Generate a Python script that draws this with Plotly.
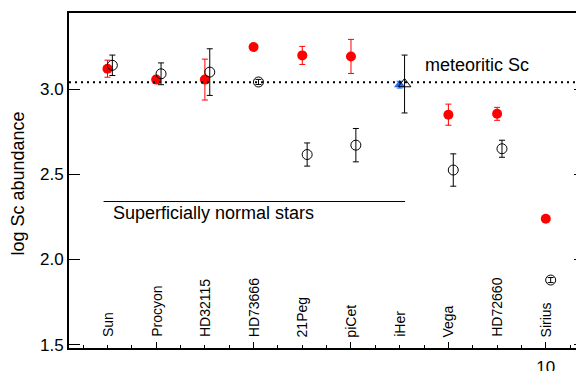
import plotly.graph_objects as go

# ---- data ----
stars = ["Sun", "Procyon", "HD32115", "HD73666", "21Peg", "piCet", "iHer", "Vega", "HD72660", "Sirius"]
star_x = [1, 2, 3, 4, 5, 6, 7, 8, 9, 10]

# filled red circles
red_x = [1, 2, 3, 4, 5, 6, 8, 9, 10]
red_y = [3.12, 3.056, 3.056, 3.247, 3.198, 3.192, 2.85, 2.855, 2.239]
red_err = [0.05, 0.02, 0.12, 0.0, 0.053, 0.10, 0.062, 0.038, 0.01]

# open black circles
open_x = [1.1, 2.1, 3.1, 4.1, 5.1, 6.1, 8.1, 9.1, 10.1]
open_y = [3.14, 3.09, 3.10, 3.042, 2.616, 2.671, 2.525, 2.65, 1.879]
open_err = [0.06, 0.064, 0.137, 0.015, 0.068, 0.098, 0.095, 0.05, 0.015]

# iHer triangles
blue_x = [7.0]
blue_y = [3.026]
blue_err = [0.02]
tri_x = [7.1]
tri_y = [3.03]
tri_err = [0.17]

meteoritic = 3.04
normal_line_x = [0.92, 7.11]
normal_line_y = 2.34

x_tickvals = [2, 4, 6, 8, 10]
x_ticktext = ["", "", "", "", "10"]
y_tickvals = [1.5, 2.0, 2.5, 3.0]
y_ticktext = ["1.5", "2.0", "2.5", "3.0"]

FONT = "Liberation Sans, Arial, sans-serif"

fig = go.Figure()

fig.add_trace(go.Scatter(
    x=red_x, y=red_y, mode="markers",
    marker=dict(color="#ff0000", size=10, line=dict(width=0)),
    error_y=dict(type="data", array=red_err, color="#ff0000", thickness=1, width=3),
    showlegend=False))

fig.add_trace(go.Scatter(
    x=open_x, y=open_y, mode="markers",
    marker=dict(color="black", size=10, symbol="circle-open",
                line=dict(color="black", width=1)),
    error_y=dict(type="data", array=open_err, color="black", thickness=1, width=3),
    showlegend=False))

fig.add_trace(go.Scatter(
    x=blue_x, y=blue_y, mode="markers",
    marker=dict(color="#1e6ff0", size=10, symbol="triangle-up", line=dict(width=0)),
    error_y=dict(type="data", array=blue_err, color="#1e6ff0", thickness=1, width=3),
    showlegend=False))

fig.add_trace(go.Scatter(
    x=tri_x, y=tri_y, mode="markers",
    marker=dict(size=11, symbol="triangle-up-open", color="black",
                line=dict(color="black", width=1)),
    error_y=dict(type="data", array=tri_err, color="black", thickness=1, width=3),
    showlegend=False))

# dummy trace for right-side y ticks
fig.add_trace(go.Scatter(x=[None], y=[None], yaxis="y2", showlegend=False))

# meteoritic dotted line
fig.add_shape(type="line", xref="paper", x0=0, x1=1, yref="y", y0=meteoritic, y1=meteoritic,
              line=dict(color="black", width=2, dash="2px,4px"))
# superficially normal stars line
fig.add_shape(type="line", xref="x", x0=normal_line_x[0], x1=normal_line_x[1],
              yref="y", y0=normal_line_y, y1=normal_line_y,
              line=dict(color="black", width=1))

annotations = []
for s, x in zip(stars, star_x):
    annotations.append(dict(x=x, y=1.532, xref="x", yref="y", text=s, textangle=-90,
                            showarrow=False, xanchor="center", yanchor="bottom",
                            font=dict(family=FONT, size=14, color="black")))
annotations.append(dict(x=7.47, y=3.143, xref="x", yref="y", text="meteoritic Sc",
                        showarrow=False, xanchor="left", yanchor="middle",
                        font=dict(family=FONT, size=18, color="black")))
annotations.append(dict(x=3.17, y=2.274, xref="x", yref="y", text="Superficially normal stars",
                        showarrow=False, xanchor="center", yanchor="middle",
                        font=dict(family=FONT, size=18, color="black")))
annotations.append(dict(x=-0.1006, y=0.491, xref="paper", yref="paper", text="log Sc abundance",
                        textangle=-90, showarrow=False, xanchor="center", yanchor="middle",
                        font=dict(family=FONT, size=18, color="black")))

fig.update_layout(
    width=576, height=371,
    margin=dict(l=69, r=0, t=13, b=23, autoexpand=False),
    paper_bgcolor="white", plot_bgcolor="white",
    font=dict(family=FONT, size=17, color="black"),
    annotations=annotations,
    xaxis=dict(range=[0.21, 10.62], showgrid=False, zeroline=False, automargin=False,
               showline=True, linewidth=2, linecolor="black", mirror=True,
               tickmode="array", tickvals=x_tickvals, ticktext=x_ticktext,
               ticks="inside", ticklen=6, tickwidth=1, tickcolor="black",
               ticklabelstandoff=3,
               minor=dict(tickmode="linear", tick0=0, dtick=0.5, ticks="inside",
                          ticklen=3, tickwidth=1, tickcolor="black", showgrid=False),
               tickfont=dict(family=FONT, size=17)),
    yaxis=dict(range=[1.48, 3.447], showgrid=False, zeroline=False, automargin=False,
               showline=True, linewidth=2, linecolor="black", mirror=False,
               tickmode="array", tickvals=y_tickvals, ticktext=y_ticktext,
               ticks="inside", ticklen=11, tickwidth=1, tickcolor="black",
               tickfont=dict(family=FONT, size=17)),
    yaxis2=dict(range=[1.48, 3.447], overlaying="y", side="right", showgrid=False,
                zeroline=False, showline=False, tickmode="array", tickvals=y_tickvals,
                ticks="inside", ticklen=2, tickwidth=1, tickcolor="black",
                showticklabels=False, automargin=False),
)

fig.write_html("out.html", config={"displayModeBar": False},
               post_script="document.body.style.margin='0px';")
